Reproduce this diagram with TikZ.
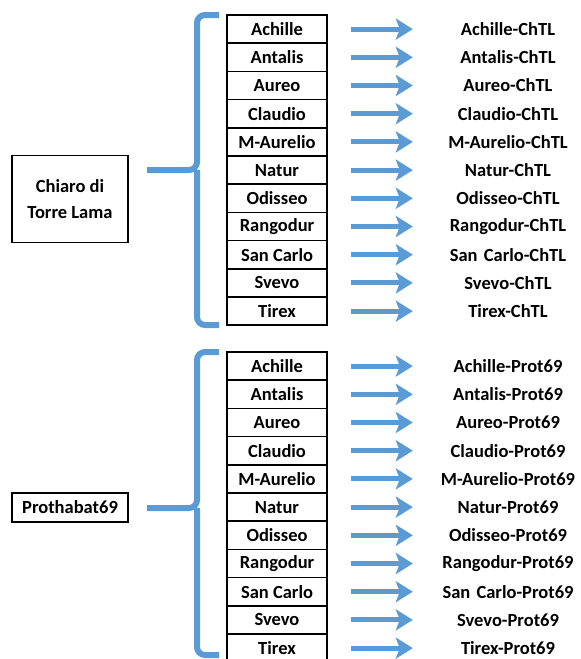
\documentclass[tikz,border=0pt]{standalone}
\usepackage{fontspec}
\setmainfont{Carlito}
\usetikzlibrary{arrows.meta}
\definecolor{braceblue}{RGB}{91,155,213}
\tikzstyle{base} = [font=\fontsize{18.5}{26}\selectfont\bfseries, inner sep=0pt]
\tikzstyle{variety} = [base, draw, line width=1.5pt, minimum width=100pt, minimum height=28.2pt]
\tikzstyle{group} = [base, draw, line width=1.5pt, minimum width=116pt, align=center]
\tikzstyle{product} = [base, text width=150pt, align=center]
\tikzstyle{brace} = [draw=braceblue, line width=6pt, rounded corners=8pt]
\tikzstyle{connector} = [draw=braceblue, line width=5pt, -{Stealth[length=17pt,width=21pt,inset=4pt]}, shorten <=23pt, shorten >=20pt]

\begin{document}
\begin{tikzpicture}[x=1pt, y=-1pt]
	\useasboundingbox (0,0) rectangle (581,659);

	% Chiaro di Torre Lama
	\node [group, minimum height=87pt] at (70, 199) (chiaro) {Chiaro di\\Torre Lama};

	\path [brace] (219,15) -- (197,15) -- (197,170) -- (147,170);
	\path [brace] (197,170) -- (197,325) -- (219,325);

	\node [variety] at (277, 29.1) (c achille) {Achille};
	\node [variety] at (277, 57.3) (c antalis) {Antalis};
	\node [variety] at (277, 85.5) (c aureo) {Aureo};
	\node [variety] at (277, 113.7) (c claudio) {Claudio};
	\node [variety] at (277, 141.9) (c maurelio) {M-Aurelio};
	\node [variety] at (277, 170.1) (c natur) {Natur};
	\node [variety] at (277, 198.3) (c odisseo) {Odisseo};
	\node [variety] at (277, 226.5) (c rangodur) {Rangodur};
	\node [variety] at (277, 254.7) (c sancarlo) {San Carlo};
	\node [variety] at (277, 282.9) (c svevo) {Svevo};
	\node [variety] at (277, 311.1) (c tirex) {Tirex};

	\node [product] at (508, 29.1) (c achille out) {Achille-ChTL};
	\node [product] at (508, 57.3) (c antalis out) {Antalis-ChTL};
	\node [product] at (508, 85.5) (c aureo out) {Aureo-ChTL};
	\node [product] at (508, 113.7) (c claudio out) {Claudio-ChTL};
	\node [product] at (508, 141.9) (c maurelio out) {M-Aurelio-ChTL};
	\node [product] at (508, 170.1) (c natur out) {Natur-ChTL};
	\node [product] at (508, 198.3) (c odisseo out) {Odisseo-ChTL};
	\node [product] at (508, 226.5) (c rangodur out) {Rangodur-ChTL};
	\node [product] at (508, 254.7) (c sancarlo out) {San Carlo-ChTL};
	\node [product] at (508, 282.9) (c svevo out) {Svevo-ChTL};
	\node [product] at (508, 311.1) (c tirex out) {Tirex-ChTL};

	\path [connector] (c achille) -- (c achille out);
	\path [connector] (c antalis) -- (c antalis out);
	\path [connector] (c aureo) -- (c aureo out);
	\path [connector] (c claudio) -- (c claudio out);
	\path [connector] (c maurelio) -- (c maurelio out);
	\path [connector] (c natur) -- (c natur out);
	\path [connector] (c odisseo) -- (c odisseo out);
	\path [connector] (c rangodur) -- (c rangodur out);
	\path [connector] (c sancarlo) -- (c sancarlo out);
	\path [connector] (c svevo) -- (c svevo out);
	\path [connector] (c tirex) -- (c tirex out);

	% Prothabat69
	\node [group, minimum height=29pt] at (70, 507.5) (prot) {Prothabat69};

	\path [brace] (219,352) -- (197,352) -- (197,508) -- (147,508);
	\path [brace] (197,508) -- (197,655) -- (219,655);

	\node [variety] at (277, 366.1) (p achille) {Achille};
	\node [variety] at (277, 394.3) (p antalis) {Antalis};
	\node [variety] at (277, 422.5) (p aureo) {Aureo};
	\node [variety] at (277, 450.7) (p claudio) {Claudio};
	\node [variety] at (277, 478.9) (p maurelio) {M-Aurelio};
	\node [variety] at (277, 507.1) (p natur) {Natur};
	\node [variety] at (277, 535.3) (p odisseo) {Odisseo};
	\node [variety] at (277, 563.5) (p rangodur) {Rangodur};
	\node [variety] at (277, 591.7) (p sancarlo) {San Carlo};
	\node [variety] at (277, 619.9) (p svevo) {Svevo};
	\node [variety] at (277, 648.1) (p tirex) {Tirex};

	\node [product] at (508, 366.1) (p achille out) {Achille-Prot69};
	\node [product] at (508, 394.3) (p antalis out) {Antalis-Prot69};
	\node [product] at (508, 422.5) (p aureo out) {Aureo-Prot69};
	\node [product] at (508, 450.7) (p claudio out) {Claudio-Prot69};
	\node [product] at (508, 478.9) (p maurelio out) {M-Aurelio-Prot69};
	\node [product] at (508, 507.1) (p natur out) {Natur-Prot69};
	\node [product] at (508, 535.3) (p odisseo out) {Odisseo-Prot69};
	\node [product] at (508, 563.5) (p rangodur out) {Rangodur-Prot69};
	\node [product] at (508, 591.7) (p sancarlo out) {San Carlo-Prot69};
	\node [product] at (508, 619.9) (p svevo out) {Svevo-Prot69};
	\node [product] at (508, 648.1) (p tirex out) {Tirex-Prot69};

	\path [connector] (p achille) -- (p achille out);
	\path [connector] (p antalis) -- (p antalis out);
	\path [connector] (p aureo) -- (p aureo out);
	\path [connector] (p claudio) -- (p claudio out);
	\path [connector] (p maurelio) -- (p maurelio out);
	\path [connector] (p natur) -- (p natur out);
	\path [connector] (p odisseo) -- (p odisseo out);
	\path [connector] (p rangodur) -- (p rangodur out);
	\path [connector] (p sancarlo) -- (p sancarlo out);
	\path [connector] (p svevo) -- (p svevo out);
	\path [connector] (p tirex) -- (p tirex out);

\end{tikzpicture}
\end{document}
